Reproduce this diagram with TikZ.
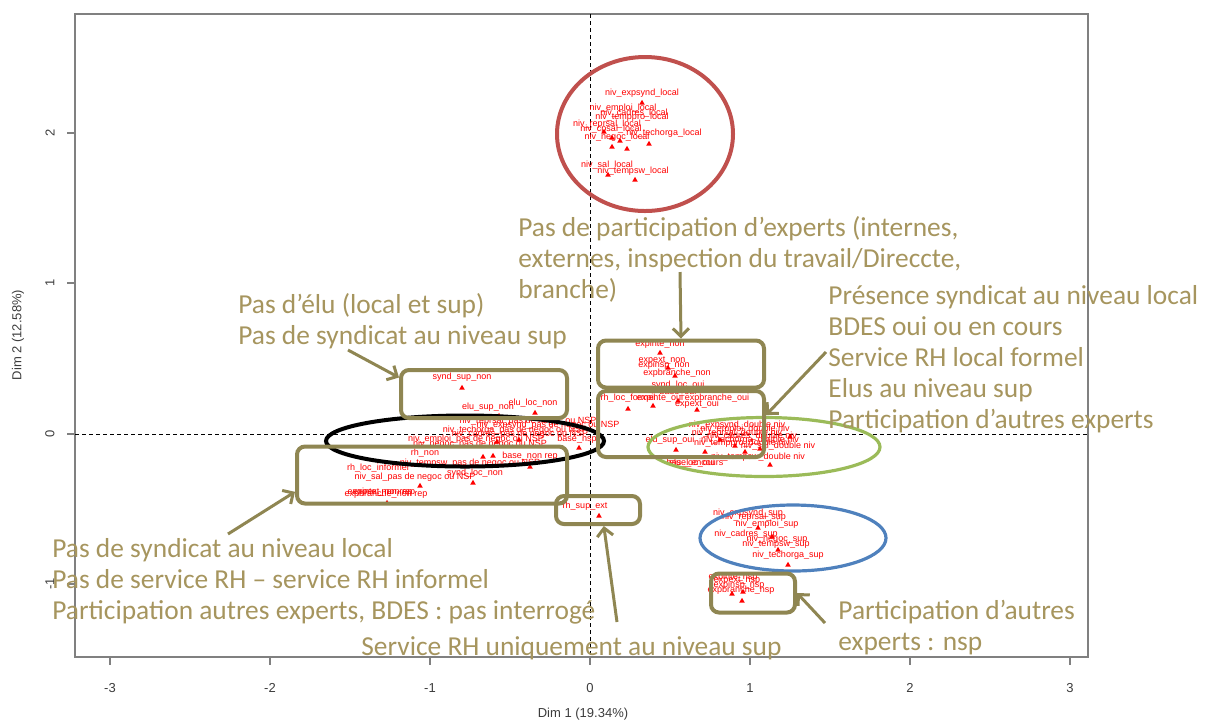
\documentclass[tikz,border=0pt]{standalone}
\usepackage{fontspec}
\setmainfont{Carlito}
\newfontfamily\plotfont{Liberation Sans}
\usepackage{tikz}
\usetikzlibrary{shapes,arrows,arrows.meta,positioning}
\definecolor{olivebox}{RGB}{143,134,82}
\definecolor{olivetxt}{RGB}{166,149,94}
\definecolor{ellred}{RGB}{192,80,77}
\definecolor{ellgreen}{RGB}{155,187,89}
\definecolor{ellblue}{RGB}{79,129,189}
\definecolor{framegray}{RGB}{128,128,128}
\definecolor{ticktxt}{RGB}{60,60,60}
\tikzset{
    lab/.style={
           text=red,
           inner sep=0pt,
           font=\plotfont\fontsize{4.5}{4.5}\selectfont
           },
    point/.style={
           regular polygon,
           regular polygon sides=3,
           fill=red,
           inner sep=0pt,
           minimum size=3.2pt
           },
    group/.style={
           draw=olivebox, line width=2pt,
           rounded corners=4pt,
           inner sep=0pt
           },
    ring/.style={
           ellipse,
           inner sep=0pt,
           line width=2pt
           },
    note/.style={
           text=olivetxt,
           inner sep=0pt,
           anchor=base west,
           align=left,
           font=\fontsize{13.7}{15.5}\selectfont
           },
    ticklab/.style={
           text=ticktxt,
           inner sep=0pt,
           font=\plotfont\fontsize{6.5}{6.5}\selectfont
           },
    pointer/.style={
           ->,
           color=olivebox,
           line width=1.5pt
           }
}

\begin{document}
\begin{tikzpicture}[x=0.5pt, y=-0.5pt, >={Straight Barb[length=4pt,width=8pt]}]
\useasboundingbox (0,0) rectangle (1210,720);
   % frame and axes
   \draw[framegray, line width=0.75pt] (75,14) rectangle (1088,657);
   \draw[framegray, line width=0.75pt] (110,657) -- (110,665) (270,657) -- (270,665)
      (430,657) -- (430,665) (590,657) -- (590,665) (750,657) -- (750,665)
      (910,657) -- (910,665) (1070,657) -- (1070,665)
      (67,133) -- (75,133) (67,283) -- (75,283) (67,434) -- (75,434) (67,584) -- (75,584);
   \draw[dash pattern=on 2pt off 1.5pt, line width=0.4pt] (590,14) -- (590,657) (75,434) -- (1088,434);
   \node[ticklab] (xm3) at (110,688) {-3};
   \node[ticklab] (xm2) at (270,688) {-2};
   \node[ticklab] (xm1) at (430,688) {-1};
   \node[ticklab] (x0) at (590,688) {0};
   \node[ticklab] (x1) at (750,688) {1};
   \node[ticklab] (x2) at (910,688) {2};
   \node[ticklab] (x3) at (1070,688) {3};
   \node[ticklab, rotate=90] (y2) at (50,133) {2};
   \node[ticklab, rotate=90] (y1) at (50,283) {1};
   \node[ticklab, rotate=90] (y0) at (50,434) {0};
   \node[ticklab, rotate=90] (ym1) at (50,584) {-1};
   \node[ticklab] (xtitle) at (583,714) {Dim 1 (19.34\%)};
   \node[ticklab, rotate=90] (ytitle) at (18,335) {Dim 2 (12.58\%)};
   % modalities, local level
   \node[lab] (l1) at (642,93) {niv\_expsynd\_local};
   \node[lab] (l2) at (623,108) {niv\_emploi\_local};
   \node[lab] (l3) at (634,113) {niv\_cadres\_local};
   \node[lab] (l4) at (632,117) {niv\_temppro\_local};
   \node[lab] (l5) at (607,124) {niv\_reprsal\_local};
   \node[lab] (l6) at (611,129) {niv\_cpsal\_local};
   \node[lab] (l7) at (664,133) {niv\_techorga\_local};
   \node[lab] (l8) at (617,137) {niv\_negoc\_local};
   \node[lab] (l9) at (607,165) {niv\_sal\_local};
   \node[lab] (l10) at (633,171) {niv\_tempsw\_local};
   \node[point] (p1) at (642,103) {};
   \node[point] (p2) at (604,132) {};
   \node[point] (p3) at (612,138) {};
   \node[point] (p4) at (620,141) {};
   \node[point] (p5) at (612,147) {};
   \node[point] (p6) at (627,149) {};
   \node[point] (p7) at (649,144) {};
   \node[point] (p8) at (608,175) {};
   \node[point] (p9) at (635,180) {};
   % modalities, left side
   \node[lab] (l11) at (462,377) {synd\_sup\_non};
   \node[lab] (l12) at (488,407) {elu\_sup\_non};
   \node[lab] (l13) at (533,403) {elu\_loc\_non};
   \node[lab] (l14) at (528,421) {niv\_reprsal\_pas de negoc ou NSP};
   \node[lab] (l15) at (548,425) {niv\_expsynd\_pas de negoc ou NSP};
   \node[lab] (l16) at (515,430) {niv\_techorga\_pas de negoc ou NSP};
   \node[lab] (l17) at (520,434) {niv\_cadres\_pas de negoc ou NSP};
   \node[lab] (l18) at (476,439) {niv\_emploi\_pas de negoc ou NSP};
   \node[lab] (l19) at (577,439) {base\_nsp};
   \node[lab] (l20) at (480,444) {niv\_negoc\_pas de negoc ou NSP};
   \node[lab] (l21) at (425,453) {rh\_non};
   \node[lab] (l22) at (530,456) {base\_non rep};
   \node[lab] (l23) at (470,463) {niv\_tempsw\_pas de negoc ou NSP};
   \node[lab] (l24) at (378,468) {rh\_loc\_informel};
   \node[lab] (l25) at (475,473) {synd\_loc\_non};
   \node[lab] (l26) at (415,477) {niv\_sal\_pas de negoc ou NSP};
   \node[lab] (l27) at (380,492) {expinte\_non rep};
   \node[lab] (l28) at (384,493) {expext\_non rep};
   \node[lab] (l29) at (386,494) {expbranche\_non rep};
   \node[lab] (l30) at (585,506) {rh\_sup\_ext};
   \node[point] (p10) at (462,388) {};
   \node[point] (p11) at (499,416) {};
   \node[point] (p12) at (535,413) {};
   \node[point] (p13) at (483,457) {};
   \node[point] (p14) at (493,456) {};
   \node[point] (p15) at (530,467) {};
   \node[point] (p16) at (579,448) {};
   \node[point] (p17) at (420,486) {};
   \node[point] (p18) at (473,483) {};
   \node[point] (p19) at (387,503) {};
   \node[point] (p20) at (519,440) {};
   \node[point] (p21) at (497,442) {};
   \node[point] (p22) at (599,516) {};
   % modalities, right side
   \node[lab] (l31) at (660,344) {expinte\_non};
   \node[lab] (l32) at (662,361) {expext\_non};
   \node[lab] (l33) at (664,365) {expinsp\_non};
   \node[lab] (l34) at (677,373) {expbranche\_non};
   \node[lab] (l35) at (678,385) {synd\_loc\_oui};
   \node[lab] (l36) at (678,392) {base\_oui};
   \node[lab] (l37) at (628,398) {rh\_loc\_formel};
   \node[lab] (l38) at (660,398) {expinte\_oui};
   \node[lab] (l39) at (717,398) {expbranche\_oui};
   \node[lab] (l40) at (697,404) {expext\_oui};
   \node[lab] (l41) at (670,440) {elu\_sup\_oui};
   \node[lab] (l42) at (737,425) {niv\_expsynd\_double niv};
   \node[lab] (l43) at (745,429) {niv\_emploi\_double niv};
   \node[lab] (l44) at (737,433) {niv\_reprsal\_double niv};
   \node[lab] (l45) at (752,436) {niv\_cadres\_double niv};
   \node[lab] (l46) at (750,440) {niv\_techorga\_double niv};
   \node[lab] (l47) at (742,443) {niv\_temppro\_double niv};
   \node[lab] (l48) at (778,446) {niv\_sal\_double niv};
   \node[lab] (l49) at (758,457) {niv\_tempsw\_double niv};
   \node[lab] (l50) at (692,463) {elu\_loc\_oui};
   \node[lab] (l51) at (695,463) {base\_encours};
   \node[point] (p23) at (660,353) {};
   \node[point] (p24) at (668,368) {};
   \node[point] (p25) at (675,376) {};
   \node[point] (p26) at (628,409) {};
   \node[point] (p27) at (653,406) {};
   \node[point] (p28) at (697,410) {};
   \node[point] (p29) at (678,401) {};
   \node[point] (p30) at (676,450) {};
   \node[point] (p31) at (770,465) {};
   \node[point] (p32) at (720,440) {};
   \node[point] (p33) at (735,446) {};
   \node[point] (p34) at (760,449) {};
   \node[point] (p35) at (790,437) {};
   \node[point] (p36) at (705,452) {};
   \node[point] (p37) at (745,452) {};
   % modalities, upper level and nsp
   \node[lab] (l52) at (748,513) {niv\_expsynd\_sup};
   \node[lab] (l53) at (754,517) {niv\_reprsal\_sup};
   \node[lab] (l54) at (767,524) {niv\_emploi\_sup};
   \node[lab] (l55) at (746,534) {niv\_cadres\_sup};
   \node[lab] (l56) at (777,539) {niv\_negoc\_sup};
   \node[lab] (l57) at (776,544) {niv\_tempsw\_sup};
   \node[lab] (l58) at (788,555) {niv\_techorga\_sup};
   \node[lab] (l59) at (733,577) {expinte\_nsp};
   \node[lab] (l60) at (737,581) {expext\_nsp};
   \node[lab] (l61) at (739,585) {expinsp\_nsp};
   \node[lab] (l62) at (741,590) {expbranche\_nsp};
   \node[point] (p38) at (758,528) {};
   \node[point] (p39) at (772,537) {};
   \node[point] (p40) at (778,550) {};
   \node[point] (p41) at (788,565) {};
   \node[point] (p42) at (732,594) {};
   \node[point] (p43) at (743,592) {};
   \node[point] (p44) at (742,601) {};
   % groups
   \node[ring, draw=ellred, minimum width=88pt, minimum height=77pt] (localring) at (645,134) {};
   \node[ring, draw=black, minimum width=139pt, minimum height=25.5pt] (nonring) at (465,441) {};
   \node[ring, draw=ellgreen, line width=1.6pt, minimum width=116pt, minimum height=29.5pt] (doublering) at (764,447) {};
   \node[ring, draw=ellblue, line width=1.6pt, minimum width=93pt, minimum height=33pt] (supring) at (793,538) {};
   \node[group, minimum width=83pt, minimum height=24pt] (sbox) at (484,394) {};
   \node[group, minimum width=135pt, minimum height=28.5pt] (lbox) at (432,475) {};
   \node[group, minimum width=42pt, minimum height=14pt] (xbox) at (598,510) {};
   \node[group, minimum width=83pt, minimum height=23.5pt] (ebox) at (681,364) {};
   \node[group, minimum width=83pt, minimum height=33pt] (rbox) at (681,424) {};
   \node[group, minimum width=42pt, minimum height=19.5pt] (nbox) at (753,593) {};
   % comments (anchored on the baseline of their last line)
   \node[note] (nexp) at (518,298) {Pas de participation d’experts (internes,\\externes, inspection du travail/Direccte,\\branche)};
   \node[note] (npres) at (828,428) {Présence syndicat au niveau local\\BDES oui ou en cours\\Service RH local formel\\Elus au niveau sup\\Participation d’autres experts};
   \node[note] (nelu) at (238,344) {Pas d’élu (local et sup)\\Pas de syndicat au niveau sup};
   \node[note] (nloc) at (52,619) {Pas de syndicat au niveau local\\Pas de service RH – service RH informel\\Participation autres experts, BDES : pas interrogé};
   \node[note] (nsup) at (361,655) {Service RH uniquement au niveau sup};
   \node[note] (nnsp) at (838,650) {Participation d’autres\\experts : nsp};
   \coordinate (aelu) at (348,350);
   \coordinate (aexp) at (680,272);
   \coordinate (apres) at (826,352);
   \coordinate (aloc) at (228,534);
   \coordinate (asup) at (617,622);
   \coordinate (ansp) at (825,623);
   \path[pointer]
    (aelu) edge (sbox.169)
    (aexp) edge (ebox.north)
    (apres) edge (rbox.6)
    (aloc) edge (lbox.187)
    (asup) edge (xbox.-70)
    (ansp) edge (nbox.east);
\end{tikzpicture}
\end{document}
